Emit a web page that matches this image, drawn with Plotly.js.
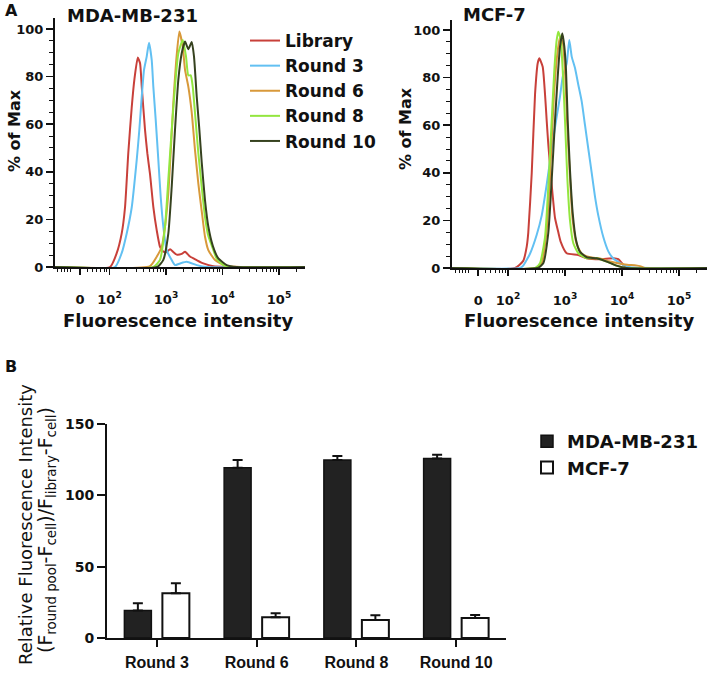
<!DOCTYPE html>
<html>
<head>
<meta charset="utf-8">
<script src="https://cdn.plot.ly/plotly-3.0.1.min.js"></script>
<style>html,body{margin:0;padding:0;background:#fff}#chart{width:710px;height:675px}</style>
</head>
<body>
<div id="chart"></div>
<script>
// ---------- Panel A : MDA-MB-231 histograms (intensity, % of max) ----------
const xLib231 = [10.8, 102, 134, 164, 188, 215, 247, 275, 316, 347, 372, 425, 467, 521, 596, 684, 783, 896, 1028, 1177, 1346, 1545, 1896, 2170, 2659, 3495, 4575, 6877, 288000];
const yLib231 = [0, 0, 5.8, 14, 25, 48, 67, 78.6, 88, 85.6, 75.8, 57.6, 47.8, 39, 25.3, 15.5, 8.5, 6.5, 6.3, 7.5, 6.3, 5.2, 5.5, 6.4, 4.4, 2.9, 1.5, 0.3, 0];
const xR3_231 = [10.8, 125, 164, 201, 247, 303, 337, 372, 408, 455, 500, 558, 596, 657, 731, 805, 896, 1028, 1261, 1442, 1770, 2325, 3495, 5250, 288000];
const yR3_231 = [0, 0, 5.8, 14, 25, 45, 57.6, 71.6, 82.8, 88.4, 94.2, 87, 75.8, 61.8, 45, 29.5, 17, 7.1, 2.9, 0.8, 1.5, 2.2, 0.8, 0, 0];
const xR6_231 = [10.8, 521, 684, 839, 960, 1098, 1225, 1346, 1503, 1719, 1976, 2170, 2482, 2849, 3263, 3733, 4285, 4900, 5607, 7365, 11860, 288000];
const yR6_231 = [0, 0.4, 4.3, 8.5, 17, 31, 50.5, 68.8, 85.6, 98.9, 92.6, 82.8, 75.8, 65, 49, 35, 23.5, 12.7, 7.1, 2.9, 0.4, 0];
const xR8_231 = [10.8, 600, 783, 960, 1098, 1261, 1442, 1651, 1976, 2260, 2482, 2737, 2970, 3263, 3733, 4285, 4900, 5607, 6440, 7890, 10330, 15350, 288000];
const yR8_231 = [0, 0, 3, 17, 36.6, 57.6, 75.8, 89.8, 95.4, 88.4, 80.5, 80.5, 75.8, 64.6, 47.8, 33.7, 21, 13, 9, 3.5, 0.8, 0, 0];
const xR10_231 = [10.8, 700, 896, 1098, 1261, 1442, 1651, 1896, 2170, 2482, 2849, 3130, 3495, 3883, 4285, 4900, 5607, 6712, 8430, 11860, 17830, 288000];
const yR10_231 = [0, 0, 3, 14, 33.7, 57.6, 78.6, 89.8, 94.7, 91.5, 94.5, 88.4, 71.6, 58, 44, 28, 17, 9, 3.6, 0.8, 0, 0];

// ---------- Panel A : MCF-7 histograms ----------
const xLibMCF = [10.4, 133, 185, 213, 227, 261, 298, 332, 354, 406, 446, 477, 509, 584, 668, 763, 841, 1072, 1711, 2403, 4109, 7037, 8611, 10540, 12910, 310000];
const yLibMCF = [0, 0, 3, 9, 15, 40, 73, 86, 88.1, 84.6, 73, 62, 52, 35, 21, 15, 11, 6.2, 5.5, 4.1, 3.7, 4.1, 3.7, 1.3, 0, 0];
const xR3MCF = [10.4, 162, 185, 243, 319, 390, 477, 584, 715, 817, 912, 1072, 1189, 1311, 1497, 1711, 1963, 2243, 2566, 2940, 3358, 3840, 4699, 5755, 7037, 8067, 10540, 13810, 310000];
const yR3MCF = [0, 0, 1, 6, 14, 22, 35, 50, 63.6, 72, 80.4, 86, 95.8, 88.8, 84, 77, 70, 60, 50, 40, 30, 22, 13, 7, 4, 3, 1.3, 0.3, 0];
const xR6MCF = [10.4, 320, 390, 477, 561, 641, 733, 817, 912, 1000, 1097, 1223, 1365, 1604, 1963, 2746, 4109, 6157, 11290, 20690, 25330, 310000];
const yR6MCF = [0, 0, 2, 16, 45, 73, 90, 97, 95, 83, 60, 38, 20, 10, 6, 4.5, 4, 2.7, 1.5, 0.8, 0, 0];
const xR8MCF = [10.4, 300, 364, 446, 509, 584, 649, 715, 763, 841, 912, 1000, 1097, 1223, 1399, 1711, 2403, 3596, 5393, 8000, 12000, 310000];
const yR8MCF = [0, 0, 2, 13, 34, 62, 83, 95.8, 99.3, 95.8, 83, 62, 38, 20, 10.4, 6.2, 4.1, 4.1, 2.7, 1, 0, 0];
const xR10MCF = [10.4, 330, 416, 509, 584, 668, 745, 817, 897, 973, 1042, 1115, 1223, 1365, 1560, 1832, 2403, 3596, 5393, 8000, 12000, 310000];
const yR10MCF = [0, 0, 2, 14.7, 37, 62, 80.4, 93, 98.6, 93, 83, 62, 41, 23, 11.8, 6.8, 4.5, 4.1, 2.7, 1, 0, 0];

// ---------- Histogram axis ticks ----------
const histTickVals = [30, 100, 1000, 10000, 100000];
const histTickText = ['0', '10<sup>2</sup>', '10<sup>3</sup>', '10<sup>4</sup>', '10<sup>5</sup>'];
const histMinorVals = [12, 14, 16, 18, 20, 40, 50, 60, 70, 80, 90,
  200, 300, 400, 500, 600, 700, 800, 900,
  2000, 3000, 4000, 5000, 6000, 7000, 8000, 9000,
  20000, 30000, 40000, 50000, 60000, 70000, 80000, 90000, 200000];

// ---------- Panel B : bar chart ----------
const rounds = ['Round 3', 'Round 6', 'Round 8', 'Round 10'];
const mdaMean = [19.2, 119.4, 124.8, 125.8];
const mdaErr = [5.1, 5.4, 2.8, 2.7];
const mcfMean = [31.3, 14.5, 12.6, 14.0];
const mcfErr = [7.0, 2.8, 3.3, 2.2];

const seriesNames = ['Library', 'Round 3', 'Round 6', 'Round 8', 'Round 10'];
const seriesColors = ['#c8403a', '#62c0f2', '#d8993a', '#93e63f', '#36421f'];

const mdaSets = [[xLib231, yLib231], [xR3_231, yR3_231], [xR6_231, yR6_231], [xR8_231, yR8_231], [xR10_231, yR10_231]];
const mcfSets = [[xLibMCF, yLibMCF], [xR3MCF, yR3MCF], [xR6MCF, yR6MCF], [xR8MCF, yR8MCF], [xR10MCF, yR10MCF]];

const W = 710, H = 675;
const px = v => v / W;
const py = v => 1 - v / H;

const traces = [];
mdaSets.forEach((s, i) => traces.push({
  type: 'scatter', mode: 'lines', x: s[0], y: s[1], name: seriesNames[i],
  xaxis: 'x', yaxis: 'y', legend: 'legend', showlegend: true,
  line: {color: seriesColors[i], width: 2, shape: 'spline', smoothing: 0.5},
  hoverinfo: 'x+y+name'
}));
mcfSets.forEach((s, i) => traces.push({
  type: 'scatter', mode: 'lines', x: s[0], y: s[1], name: seriesNames[i],
  xaxis: 'x2', yaxis: 'y2', showlegend: false,
  line: {color: seriesColors[i], width: 2, shape: 'spline', smoothing: 0.5},
  hoverinfo: 'x+y+name'
}));
traces.push({
  type: 'bar', x: rounds, y: mdaMean, name: 'MDA-MB-231', xaxis: 'x3', yaxis: 'y3', legend: 'legend2',
  marker: {color: '#222222', line: {color: '#111111', width: 1.5}},
  error_y: {type: 'data', symmetric: false, array: mdaErr, arrayminus: [0, 0, 0, 0], color: '#111', thickness: 2, width: 5}
});
traces.push({
  type: 'bar', x: rounds, y: mcfMean, name: 'MCF-7', xaxis: 'x3', yaxis: 'y3', legend: 'legend2',
  marker: {color: '#ffffff', line: {color: '#111111', width: 2}},
  error_y: {type: 'data', symmetric: false, array: mcfErr, arrayminus: [0, 0, 0, 0], color: '#111', thickness: 2, width: 5}
});

const DJ = 'DejaVu Sans';
const boldFont = (s) => ({family: DJ, size: s, color: '#111', weight: 'bold'});

function histX(domain, range) {
  return {
    domain: domain, type: 'log', range: range, showgrid: false, zeroline: false,
    showline: true, linecolor: '#111', linewidth: 2, mirror: false,
    ticks: 'outside', ticklen: 6, tickwidth: 1.5, tickcolor: '#111',
    tickmode: 'array', tickvals: histTickVals, ticktext: histTickText,
    tickfont: boldFont(13), ticklabelstandoff: 13,
    minor: {tickmode: 'array', tickvals: histMinorVals, ticks: 'outside', ticklen: 3, tickwidth: 1, tickcolor: '#111', showgrid: false}
  };
}
function histY(domain, range, anchor) {
  return {
    domain: domain, range: range, anchor: anchor, showgrid: false, zeroline: false,
    showline: true, linecolor: '#111', linewidth: 2,
    ticks: 'outside', ticklen: 7, tickwidth: 1.5, tickcolor: '#111',
    tickmode: 'linear', tick0: 0, dtick: 20, tickfont: boldFont(13),
    minor: {dtick: 5, ticks: 'outside', ticklen: 4, tickwidth: 1, tickcolor: '#111', showgrid: false}
  };
}

const layout = {
  width: W, height: H, margin: {l: 0, r: 0, t: 0, b: 0},
  paper_bgcolor: '#fff', plot_bgcolor: 'rgba(0,0,0,0)',
  showlegend: true, barmode: 'group', bargap: 0.238, bargroupgap: 0.29,
  font: {family: DJ, color: '#111'},
  xaxis: Object.assign(histX([px(55), px(305)], [1.035, 5.46]), {anchor: 'y'}),
  yaxis: histY([py(267), py(18)], [0, 104.6], 'x'),
  xaxis2: Object.assign(histX([px(452), px(707)], [1.0175, 5.491]), {anchor: 'y2'}),
  yaxis2: histY([py(268), py(20)], [0, 104.2], 'x2'),
  xaxis3: {
    domain: [px(107), px(506)], anchor: 'y3', type: 'category', range: [-0.5, 3.5],
    showline: true, linecolor: '#111', linewidth: 2, showgrid: false, zeroline: false,
    ticks: 'outside', ticklen: 7, tickwidth: 2, tickcolor: '#111',
    tickfont: {family: 'Liberation Sans', size: 16, color: '#111', weight: 'bold'}, ticklabelstandoff: 2
  },
  yaxis3: {
    domain: [py(638), py(424)], anchor: 'x3', range: [0, 150],
    showline: true, linecolor: '#111', linewidth: 2, showgrid: false, zeroline: false,
    ticks: 'outside', ticklen: 8, tickwidth: 2, tickcolor: '#111',
    tickmode: 'linear', tick0: 0, dtick: 50, tickfont: boldFont(14)
  },
  legend: {
    x: px(245), y: py(23), xanchor: 'left', yanchor: 'top', bgcolor: 'rgba(0,0,0,0)',
    font: boldFont(17), itemwidth: 30, traceorder: 'normal'
  },
  legend2: {
    x: px(527), y: py(423), xanchor: 'left', yanchor: 'top', bgcolor: 'rgba(0,0,0,0)',
    font: boldFont(18), traceorder: 'normal'
  },
  annotations: [
    {text: 'A', x: px(3), y: py(11), xref: 'paper', yref: 'paper', xanchor: 'left', yanchor: 'middle', showarrow: false, font: boldFont(16)},
    {text: 'MDA-MB-231', x: px(132), y: py(15), xref: 'paper', yref: 'paper', xanchor: 'center', yanchor: 'middle', showarrow: false, font: boldFont(18)},
    {text: 'MCF-7', x: px(495), y: py(14.5), xref: 'paper', yref: 'paper', xanchor: 'center', yanchor: 'middle', showarrow: false, font: boldFont(18)},
    {text: '% of Max', x: px(14), y: py(131), xref: 'paper', yref: 'paper', xanchor: 'center', yanchor: 'middle', textangle: -90, showarrow: false, font: boldFont(16)},
    {text: '% of Max', x: px(405), y: py(129), xref: 'paper', yref: 'paper', xanchor: 'center', yanchor: 'middle', textangle: -90, showarrow: false, font: boldFont(16)},
    {text: 'Fluorescence intensity', x: px(177.5), y: py(320), xref: 'paper', yref: 'paper', xanchor: 'center', yanchor: 'middle', showarrow: false, font: boldFont(18)},
    {text: 'Fluorescence intensity', x: px(579), y: py(320), xref: 'paper', yref: 'paper', xanchor: 'center', yanchor: 'middle', showarrow: false, font: boldFont(18)},
    {text: 'B', x: px(3), y: py(366), xref: 'paper', yref: 'paper', xanchor: 'left', yanchor: 'middle', showarrow: false, font: boldFont(16)},
    {text: 'Relative Fluorescence Intensity', x: px(25), y: py(525), xref: 'paper', yref: 'paper', xanchor: 'center', yanchor: 'middle', textangle: -90, showarrow: false, font: {family: DJ, size: 18, color: '#111'}},
    {text: '(F<sub>round pool</sub>-F<sub>cell</sub>)/F<sub>library</sub>-F<sub>cell</sub>)', x: px(46), y: py(530), xref: 'paper', yref: 'paper', xanchor: 'center', yanchor: 'middle', textangle: -90, showarrow: false, font: {family: DJ, size: 19, color: '#111'}}
  ]
};

Plotly.newPlot('chart', traces, layout, {staticPlot: true, displayModeBar: false});
</script>
</body>
</html>
